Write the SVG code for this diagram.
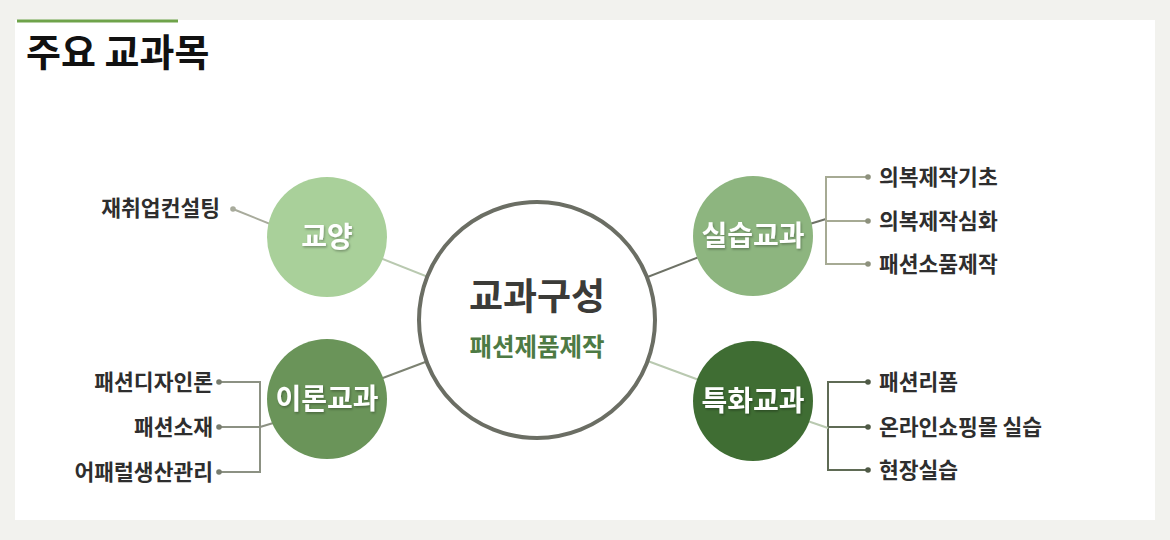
<svg xmlns="http://www.w3.org/2000/svg" width="1170" height="540" viewBox="0 0 1170 540">
<defs>
<style>
.t{font-family:"Noto Sans CJK KR","Noto Sans",sans-serif;font-weight:700}
.leaf{font-size:21.5px;fill:#2e2e2e}
.hub{font-size:28px;fill:#ffffff}
.dot{stroke:none}
</style>
<filter id="sh" x="-20%" y="-20%" width="140%" height="140%">
<feDropShadow dx="1" dy="1.5" stdDeviation="1" flood-color="#000" flood-opacity="0.3"/>
</filter>
</defs>
<rect width="1170" height="540" fill="#f2f2ee"/>
<rect x="15" y="20" width="1140" height="500" fill="#ffffff"/>
<rect x="17" y="19.5" width="161" height="3" fill="#6fa34a"/>
<text class="t" x="26" y="66" font-size="38" fill="#111111">주요 교과목</text>

<g id="connectors" fill="none" stroke-width="2">
<line x1="327" y1="237" x2="537" y2="320" stroke="#b9c9b0"/>
<line x1="753" y1="236" x2="537" y2="320" stroke="#6e7266"/>
<line x1="327" y1="399" x2="537" y2="320" stroke="#7c8272"/>
<line x1="753" y1="400" x2="537" y2="320" stroke="#b9c9b0"/>
<line x1="233" y1="209" x2="290" y2="232" stroke="#a8ab9c"/>
<polyline points="790,230 826,219" stroke="#6e7266"/>
<polyline points="868,177 826,177 826,264 868,264" stroke="#a6aa94"/>
<line x1="826" y1="221" x2="868" y2="221" stroke="#a6aa94"/>
<polyline points="219,382 260,382 260,472 219,472" stroke="#8c9183"/>
<line x1="219" y1="427" x2="260" y2="427" stroke="#8c9183"/>
<line x1="260" y1="427" x2="290" y2="418" stroke="#8c9183"/>
<polyline points="868,382 828,382 828,470 868,470" stroke="#5f6b55"/>
<line x1="828" y1="427" x2="868" y2="427" stroke="#5f6b55"/>
<line x1="790" y1="415" x2="828" y2="428" stroke="#b9c9b0"/>
<g class="dot">
<circle cx="233" cy="209" r="2.8" fill="#a8ab9c"/>
<circle cx="868" cy="177" r="2.8" fill="#8d917d"/>
<circle cx="868" cy="221" r="2.8" fill="#8d917d"/>
<circle cx="868" cy="264" r="2.8" fill="#8d917d"/>
<circle cx="219" cy="382" r="2.8" fill="#777c6e"/>
<circle cx="219" cy="427" r="2.8" fill="#777c6e"/>
<circle cx="219" cy="472" r="2.8" fill="#777c6e"/>
<circle cx="868" cy="382" r="2.8" fill="#4f5a46"/>
<circle cx="868" cy="427" r="2.8" fill="#4f5a46"/>
<circle cx="868" cy="470" r="2.8" fill="#4f5a46"/>
</g>
</g>

<g id="center">
<circle cx="537" cy="320" r="118" fill="#ffffff" stroke="#6b6e64" stroke-width="4"/>
<text class="t" x="537" y="310" font-size="37" fill="#3b3b38" text-anchor="middle">교과구성</text>
<text class="t" x="537" y="356" font-size="24.5" fill="#4d7a44" text-anchor="middle">패션제품제작</text>
</g>

<g id="gyoyang">
<circle cx="327" cy="237" r="60" fill="#a9d09a"/>
<text class="t hub" x="327" y="247" text-anchor="middle" filter="url(#sh)">교양</text>
</g>
<g id="silseup">
<circle cx="753" cy="236" r="60" fill="#8db57f"/>
<text class="t hub" x="753" y="246" text-anchor="middle" filter="url(#sh)">실습교과</text>
</g>
<g id="iron">
<circle cx="327" cy="399" r="60" fill="#6a9459"/>
<text class="t hub" x="327" y="409" text-anchor="middle" filter="url(#sh)">이론교과</text>
</g>
<g id="teukhwa">
<circle cx="753" cy="401" r="60" fill="#3f6d33"/>
<text class="t hub" x="753" y="411" text-anchor="middle" filter="url(#sh)">특화교과</text>
</g>

<g id="leaf-gyoyang">
<text class="t leaf" x="220" y="216" text-anchor="end">재취업컨설팅</text>
</g>
<g id="leaf-silseup">
<text class="t leaf" x="879" y="185">의복제작기초</text>
<text class="t leaf" x="879" y="229">의복제작심화</text>
<text class="t leaf" x="879" y="272">패션소품제작</text>
</g>
<g id="leaf-iron">
<text class="t leaf" x="213" y="390" text-anchor="end">패션디자인론</text>
<text class="t leaf" x="213" y="435" text-anchor="end">패션소재</text>
<text class="t leaf" x="213" y="480" text-anchor="end">어패럴생산관리</text>
</g>
<g id="leaf-teukhwa">
<text class="t leaf" x="879" y="390">패션리폼</text>
<text class="t leaf" x="879" y="435">온라인쇼핑몰 실습</text>
<text class="t leaf" x="879" y="478">현장실습</text>
</g>
</svg>
